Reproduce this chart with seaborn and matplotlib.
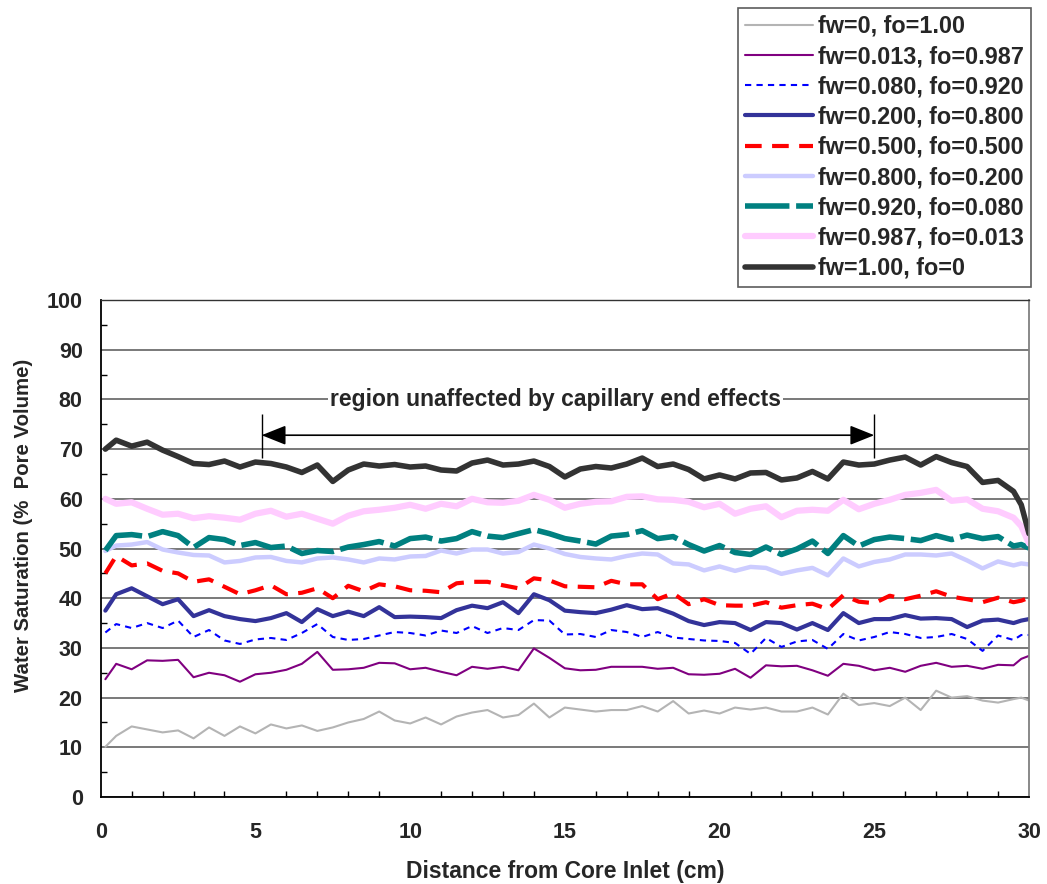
import numpy as np
import pandas as pd
import matplotlib
matplotlib.use("Agg")
import matplotlib.pyplot as plt
import seaborn as sns

# distance from core inlet (cm)
distance = [0.15, 0.5, 1.0, 1.5, 2.0, 2.5, 3.0, 3.5, 4.0, 4.5, 5.0, 5.5, 6.0, 6.5, 7.0, 7.5,
            8.0, 8.5, 9.0, 9.5, 10.0, 10.5, 11.0, 11.5, 12.0, 12.5, 13.0, 13.5, 14.0, 14.5,
            15.0, 15.5, 16.0, 16.5, 17.0, 17.5, 18.0, 18.5, 19.0, 19.5, 20.0, 20.5, 21.0,
            21.5, 22.0, 22.5, 23.0, 23.5, 24.0, 24.5, 25.0, 25.5, 26.0, 26.5, 27.0, 27.5,
            28.0, 28.5, 29.0, 29.5, 29.75, 30.0]

# water saturation (% pore volume) for each fractional flow
sw_fw000 = [10.1, 12.3, 14.2, 13.6, 13.0, 13.4, 11.8, 14.0, 12.3, 14.2, 12.8, 14.6, 13.8, 14.4, 13.3, 14.0,
            15.0, 15.7, 17.2, 15.4, 14.8, 16.0, 14.6, 16.2, 17.0, 17.5, 16.0, 16.5, 18.8, 16.0,
            18.0, 17.6, 17.2, 17.5, 17.5, 18.3, 17.2, 19.3, 16.8, 17.4, 16.8, 18.0, 17.6,
            18.0, 17.2, 17.2, 18.0, 16.6, 20.8, 18.5, 18.9, 18.3, 20.0, 17.5, 21.4, 20.0,
            20.3, 19.4, 19.0, 19.7, 20.0, 19.4]
sw_fw013 = [23.7, 26.8, 25.7, 27.5, 27.4, 27.6, 24.1, 25.0, 24.5, 23.2, 24.7, 25.0, 25.6, 26.8, 29.2, 25.6,
            25.7, 26.0, 27.0, 26.9, 25.7, 26.0, 25.2, 24.5, 26.2, 25.8, 26.2, 25.5, 29.9, 28.0,
            25.9, 25.5, 25.6, 26.2, 26.2, 26.2, 25.8, 26.0, 24.7, 24.6, 24.8, 25.8, 24.0,
            26.5, 26.3, 26.4, 25.5, 24.4, 26.8, 26.4, 25.5, 26.0, 25.2, 26.4, 27.0, 26.2,
            26.4, 25.8, 26.6, 26.5, 27.8, 28.4]
sw_fw080 = [33.1, 34.8, 34.0, 35.0, 34.0, 35.5, 32.2, 33.6, 31.5, 30.8, 31.7, 32.0, 31.6, 33.0, 34.8, 32.2,
            31.6, 31.8, 32.5, 33.2, 33.0, 32.5, 33.5, 33.0, 34.4, 33.0, 34.0, 33.6, 35.6, 35.5,
            32.7, 32.8, 32.2, 33.6, 33.2, 32.2, 33.2, 32.1, 31.8, 31.5, 31.4, 31.0, 28.8,
            32.0, 30.2, 31.3, 31.6, 29.8, 32.8, 31.5, 32.2, 33.2, 32.8, 32.0, 32.2, 32.8,
            31.8, 29.4, 32.5, 31.6, 32.6, 32.6]
sw_fw200 = [37.5, 40.8, 42.0, 40.4, 38.8, 39.8, 36.4, 37.6, 36.4, 35.8, 35.4, 36.0, 37.0, 35.2, 37.8, 36.4,
            37.3, 36.4, 38.2, 36.2, 36.3, 36.2, 36.0, 37.6, 38.5, 38.0, 39.2, 37.0, 40.8, 39.6,
            37.5, 37.2, 37.0, 37.7, 38.6, 37.8, 38.0, 36.9, 35.4, 34.6, 35.2, 35.0, 33.6,
            35.2, 35.0, 33.7, 35.0, 33.6, 37.0, 35.0, 35.8, 35.8, 36.6, 35.9, 36.0, 35.8,
            34.2, 35.5, 35.7, 35.0, 35.5, 35.8]
sw_fw500 = [45.0, 48.5, 46.6, 47.0, 45.5, 45.0, 43.3, 43.8, 42.3, 40.8, 41.6, 42.6, 40.8, 41.1, 42.0, 40.0,
            42.5, 41.4, 42.8, 42.4, 41.6, 41.5, 41.2, 43.0, 43.3, 43.3, 42.6, 42.0, 44.0, 43.6,
            42.4, 42.3, 42.2, 43.5, 42.8, 42.8, 39.8, 41.0, 38.8, 39.8, 38.6, 38.5, 38.5,
            39.2, 38.1, 38.6, 38.9, 37.8, 40.6, 39.3, 39.0, 40.5, 39.8, 40.5, 41.4, 40.3,
            39.8, 39.2, 40.1, 39.2, 39.5, 40.1]
sw_fw800 = [49.5, 50.6, 50.8, 51.3, 49.8, 49.2, 48.7, 48.6, 47.2, 47.5, 48.2, 48.3, 47.5, 47.2, 48.0, 48.2,
            47.8, 47.2, 48.0, 47.8, 48.4, 48.5, 49.6, 49.0, 49.8, 49.8, 49.0, 49.3, 50.8, 50.0,
            48.9, 48.3, 48.0, 47.8, 48.5, 49.0, 48.8, 47.0, 46.8, 45.6, 46.4, 45.5, 46.3,
            46.1, 44.9, 45.6, 46.1, 44.6, 48.0, 46.4, 47.3, 47.8, 48.8, 48.8, 48.6, 49.0,
            47.6, 46.0, 47.4, 46.6, 47.0, 46.8]
sw_fw920 = [49.6, 52.6, 52.8, 52.4, 53.4, 52.6, 50.2, 52.2, 51.8, 50.6, 51.2, 50.2, 50.5, 49.0, 49.6, 49.4,
            50.3, 50.8, 51.4, 50.5, 52.0, 52.3, 51.5, 52.0, 53.4, 52.5, 52.2, 53.0, 53.8, 53.0,
            52.0, 51.5, 50.9, 52.5, 52.8, 53.6, 52.0, 52.4, 50.8, 49.5, 50.6, 49.2, 48.8,
            50.3, 48.8, 49.9, 51.5, 49.0, 52.6, 50.5, 51.8, 52.3, 52.0, 51.6, 52.6, 51.8,
            52.7, 52.0, 52.4, 50.5, 50.8, 50.1]
sw_fw987 = [60.0, 59.0, 59.3, 58.0, 56.8, 57.0, 56.1, 56.5, 56.2, 55.8, 57.0, 57.6, 56.4, 57.0, 56.0, 55.0,
            56.6, 57.5, 57.8, 58.2, 58.8, 58.0, 59.0, 58.5, 60.0, 59.3, 59.2, 59.6, 60.8, 59.8,
            58.2, 59.0, 59.4, 59.5, 60.4, 60.5, 59.9, 59.8, 59.4, 58.3, 59.0, 57.0, 58.0,
            58.5, 56.3, 57.6, 57.8, 57.6, 59.8, 57.9, 59.0, 59.8, 60.8, 61.2, 61.8, 59.6,
            59.9, 58.0, 57.5, 56.2, 54.5, 51.0]
sw_fw100 = [70.0, 71.8, 70.6, 71.4, 69.8, 68.5, 67.1, 66.9, 67.6, 66.4, 67.4, 67.1, 66.4, 65.3, 66.8, 63.5,
            65.8, 67.0, 66.6, 66.9, 66.4, 66.6, 65.8, 65.6, 67.2, 67.8, 66.8, 67.0, 67.6, 66.5,
            64.4, 66.0, 66.5, 66.2, 67.0, 68.2, 66.5, 67.0, 65.9, 64.0, 64.8, 64.0, 65.2,
            65.3, 63.8, 64.2, 65.5, 64.0, 67.4, 66.8, 67.0, 67.8, 68.4, 66.8, 68.5, 67.3,
            66.5, 63.3, 63.7, 61.5, 58.8, 53.0]

labels = ["fw=0, fo=1.00", "fw=0.013, fo=0.987", "fw=0.080, fo=0.920",
          "fw=0.200, fo=0.800", "fw=0.500, fo=0.500", "fw=0.800, fo=0.200",
          "fw=0.920, fo=0.080", "fw=0.987, fo=0.013", "fw=1.00, fo=0"]
series = [sw_fw000, sw_fw013, sw_fw080, sw_fw200, sw_fw500,
          sw_fw800, sw_fw920, sw_fw987, sw_fw100]

# colour, width, dash pattern
styles = [("#b4b4b4", 1.5, "-"),
          ("#800080", 1.5, "-"),
          ("#0000ff", 1.5, (0, (3, 2.5))),
          ("#333399", 3.0, "-"),
          ("#ff0000", 3.0, (0, (4, 2.5))),
          ("#ccccff", 3.2, "-"),
          ("#008080", 4.0, (0, (8, 1.2))),
          ("#ffccff", 4.5, "-"),
          ("#333333", 4.0, "-")]

region = (5.2, 25.0)

sns.set_style("white")
plt.rcParams["font.family"] = ["Liberation Sans", "DejaVu Sans"]
plt.rcParams["font.weight"] = "bold"

fig = plt.figure(figsize=(10.47, 8.84), dpi=100)
ax = fig.add_axes([0.0962, 0.0984, 0.8866, 0.5622])

for vals, lab, (col, lw, ls) in zip(series, labels, styles):
    df = pd.DataFrame({"Distance": distance, "Sw": vals})
    sns.lineplot(data=df, x="Distance", y="Sw", ax=ax, color=col, linewidth=lw,
                 linestyle=ls, label=lab, estimator=None, sort=False)

handles, labs = ax.get_legend_handles_labels()
if ax.get_legend() is not None:
    ax.get_legend().remove()

ax.set_xlim(0, 30)
ax.set_ylim(0, 100)
ax.set_xticks(range(0, 31, 5))
ax.set_xticks(range(0, 31, 1), minor=True)
ax.set_yticks(range(0, 101, 10))
ax.set_yticks(range(5, 100, 10), minor=True)
ax.tick_params(axis="both", which="major", direction="inout", length=10, width=1,
               labelsize=15.5, color="black")
ax.tick_params(axis="x", which="major", pad=13)
ax.tick_params(axis="y", which="major", pad=8)
ax.tick_params(axis="both", which="minor", direction="in", length=4.5, width=1, color="black")
ax.tick_params(axis="x", which="minor", bottom=True)
ax.tick_params(axis="y", which="minor", left=True)
for t in ax.get_xticklabels() + ax.get_yticklabels():
    t.set_fontweight("bold")

ax.yaxis.grid(True, color="#555555", linewidth=1.1)
ax.xaxis.grid(False)
ax.set_axisbelow(True)
for side in ["left", "bottom"]:
    ax.spines[side].set_color("black")
    ax.spines[side].set_linewidth(1.3)
ax.spines["right"].set_color("#808080")
ax.spines["right"].set_linewidth(1.3)
ax.spines["top"].set_color("#333333")
ax.spines["top"].set_linewidth(1.0)

ax.set_xlabel("Distance from Core Inlet (cm)", fontsize=16.5, fontweight="bold", labelpad=12)
ax.set_ylabel("Water Saturation (%  Pore Volume)", fontsize=14.7, fontweight="bold")
ax.yaxis.set_label_coords(-0.073, 0.547)

# region unaffected by end effects
ax.text(14.7, 80, "region unaffected by capillary end effects", ha="center", va="center",
        fontsize=16.5, fontweight="bold",
        bbox=dict(facecolor="white", edgecolor="none", pad=1.5))
ax.annotate("", xy=(region[0], 72.8), xytext=(region[1], 72.8),
            arrowprops=dict(arrowstyle="<|-|>,head_length=0.5,head_width=0.2",
                            color="black", lw=1.2, mutation_scale=30,
                            shrinkA=0, shrinkB=0))
ax.vlines(region, 68.2, 77.0, color="black", linewidth=1.0)

leg = fig.legend(handles, labs, loc="upper right", bbox_to_anchor=(0.985, 0.991),
                 prop={"size": 16.8, "weight": "bold"}, frameon=True, fancybox=False,
                 edgecolor="#333333", handlelength=2.9, handletextpad=0.25,
                 labelspacing=0.31, borderpad=0.3, borderaxespad=0)
leg.get_frame().set_linewidth(1.2)

fig.savefig("out.png", dpi=100)
